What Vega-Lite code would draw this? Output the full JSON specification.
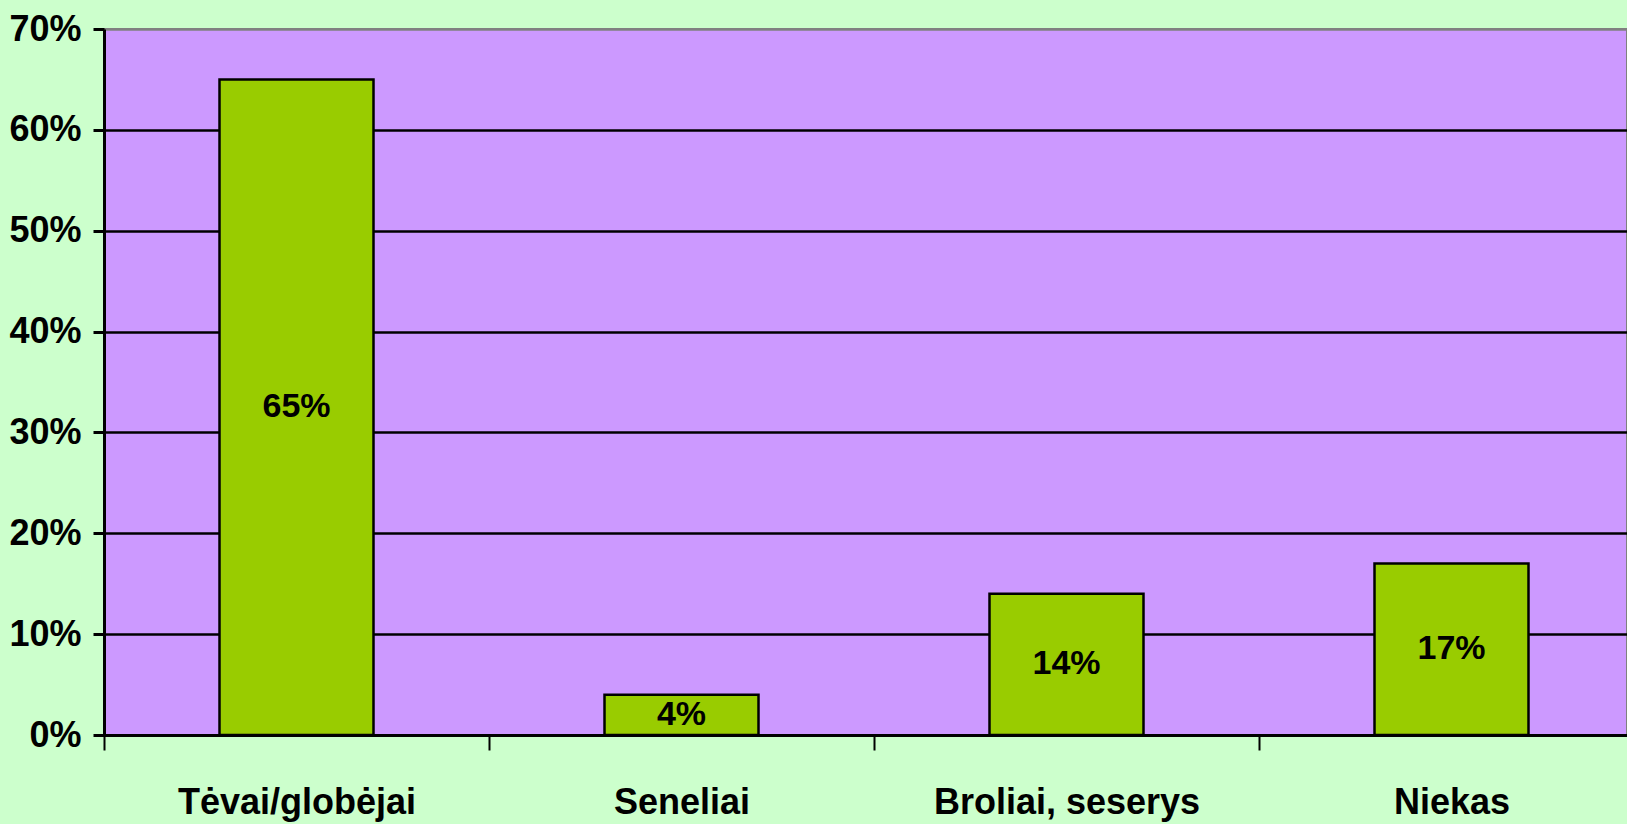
{
  "$schema": "https://vega.github.io/schema/vega-lite/v6.json",
  "width": 1523,
  "height": 706,
  "autosize": {"type": "none"},
  "padding": {"left": 104, "top": 29, "right": 0, "bottom": 89},
  "background": "#CCFFCC",
  "config": {
    "view": {"fill": "#CC99FF", "stroke": "#808080", "strokeWidth": 2},
    "font": "Liberation Sans"
  },
  "data": {"values": [
    {"k": "Tėvai/globėjai", "v": 0.65},
    {"k": "Seneliai", "v": 0.04},
    {"k": "Broliai, seserys", "v": 0.14},
    {"k": "Niekas", "v": 0.17}
  ]},
  "encoding": {
    "x": {"field": "k", "type": "nominal", "sort": null,
      "scale": {"range": [0, 1540], "paddingInner": 0.6, "paddingOuter": 0.3},
      "axis": {"title": null, "labelAngle": 0, "labelFont": "Liberation Sans", "labelFontSize": 36, "labelFontWeight": "bold", "labelColor": "black", "labelPadding": 35, "labelLimit": 600,
        "tickOffset": -192.5, "labelOffset": 192.5, "tickSize": 15, "tickWidth": 2, "tickColor": "black", "domainColor": "black", "domainWidth": 3}
    }
  },
  "layer": [
    {
      "mark": {"type": "bar", "fill": "#99CC00", "stroke": "black", "strokeWidth": 2.5},
      "encoding": {
        "y": {"field": "v", "type": "quantitative",
          "scale": {"domain": [0, 0.7], "nice": false},
          "axis": {"title": null, "values": [0, 0.1, 0.2, 0.3, 0.4, 0.5, 0.6, 0.7], "format": ".0%",
            "labelFont": "Liberation Sans", "labelFontSize": 36, "labelFontWeight": "bold", "labelColor": "black", "labelPadding": 12,
            "tickSize": 11, "tickWidth": 3, "tickColor": "black", "domainColor": "black", "domainWidth": 3,
            "grid": true, "gridWidth": 2.5,
            "gridColor": {"condition": {"test": "datum.value >= 0.7", "value": "#808080"}, "value": "black"}}
        }
      }
    },
    {
      "transform": [{"calculate": "datum.v / 2", "as": "mid"}],
      "mark": {"type": "text", "font": "Liberation Sans", "fontSize": 34, "fontWeight": "bold", "color": "black", "baseline": "middle", "align": "center"},
      "encoding": {
        "y": {"field": "mid", "type": "quantitative"},
        "text": {"field": "v", "type": "quantitative", "format": ".0%"}
      }
    }
  ]
}
